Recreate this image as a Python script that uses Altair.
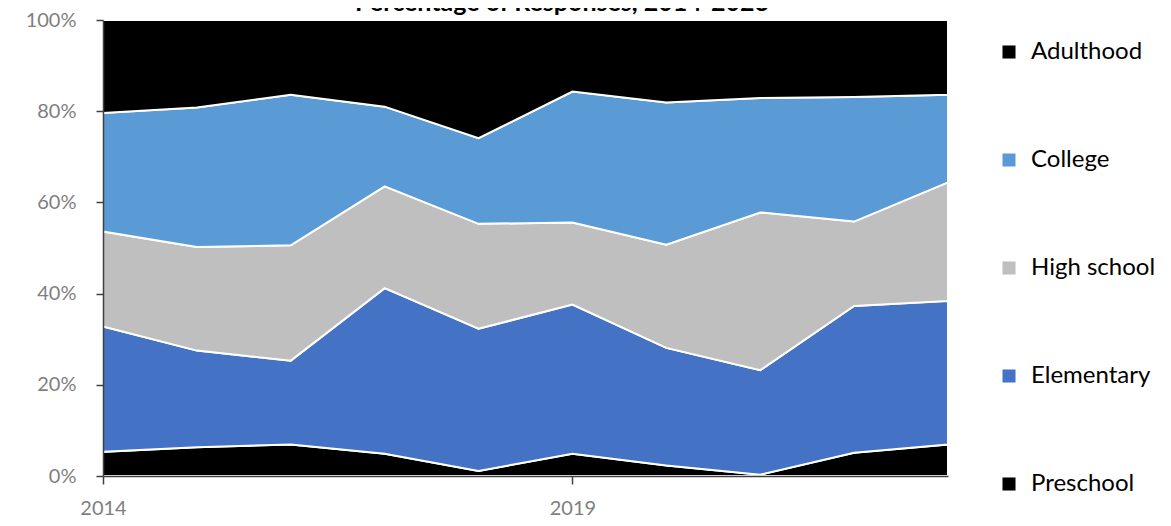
import altair as alt
import pandas as pd

years = [2014, 2015, 2016, 2017, 2018, 2019, 2020, 2021, 2022, 2023]
categories = ["Adulthood", "College", "High school", "Elementary", "Preschool"]
colors = ["#000000", "#5b9bd5", "#bfbfbf", "#4472c4", "#000000"]

preschool = [5.3, 6.3, 6.9, 4.9, 1.1, 4.9, 2.3, 0.3, 5.1, 6.9]
elementary = [27.5, 21.2, 18.4, 36.3, 31.2, 32.7, 25.8, 22.9, 32.2, 31.5]
high_school = [20.8, 22.7, 25.3, 22.3, 23.0, 18.0, 22.6, 34.6, 18.5, 26.0]
college = [26.0, 30.6, 33.0, 17.5, 18.8, 28.7, 31.2, 25.1, 27.3, 19.2]
adulthood = [20.4, 19.2, 16.4, 19.0, 25.9, 15.7, 18.1, 17.1, 16.9, 16.4]

title_text = "Percentage of Responses, 2014-2023"

series = {
    "Preschool": preschool,
    "Elementary": elementary,
    "High school": high_school,
    "College": college,
    "Adulthood": adulthood,
}
stack_order = {"Preschool": 0, "Elementary": 1, "High school": 2, "College": 3, "Adulthood": 4}

rows = []
for name, vals in series.items():
    for y, v in zip(years, vals):
        rows.append({"year": y, "level": name, "value": v, "ord": stack_order[name]})
df = pd.DataFrame(rows)

FONT = "Lato"
AXIS_COL = "#404040"
LABEL_COL = "#7f7f7f"

area = alt.Chart(df).mark_area(stroke="white", strokeWidth=2, strokeJoin="miter").encode(
    x=alt.X(
        "year:Q",
        scale=alt.Scale(domain=[2014, 2023], nice=False, zero=False),
        axis=alt.Axis(
            values=[2014, 2019], format="d", title=None, grid=False,
            labelFontSize=20, labelColor=LABEL_COL, labelFont=FONT,
            labelFlush=False, labelAlign="center",
            tickSize=8, tickColor=AXIS_COL, domainColor=AXIS_COL,
            domainWidth=1.5, tickWidth=1.5, labelPadding=14, zindex=1,
        ),
    ),
    y=alt.Y(
        "value:Q",
        stack="normalize",
        scale=alt.Scale(domain=[0, 1], nice=False),
        axis=alt.Axis(
            values=[0, 0.2, 0.4, 0.6, 0.8, 1.0], format=".0%", title=None, grid=False,
            labelFontSize=20, labelColor=LABEL_COL, labelFont=FONT,
            tickSize=7, tickColor=AXIS_COL, domainColor=AXIS_COL,
            domainWidth=1.5, tickWidth=1.5, labelPadding=20, zindex=1,
        ),
    ),
    color=alt.Color(
        "level:N",
        scale=alt.Scale(domain=categories, range=colors),
        legend=alt.Legend(
            title=None, orient="none", legendX=894, legendY=20, padding=0,
            symbolType="square", symbolSize=170, symbolStrokeWidth=0,
            labelFontSize=24, labelColor="#000000", labelFont=FONT,
            rowPadding=84, labelOffset=10,
        ),
    ),
    order=alt.Order("ord:Q", sort="ascending"),
)

title = alt.Chart(pd.DataFrame({"t": [title_text]})).mark_text(
    fontSize=25, fontWeight="bold", font=FONT, color="#000000", align="center", baseline="alphabetic"
).encode(text="t:N", x=alt.value(459), y=alt.value(-9))

chart = alt.layer(area, title).properties(
    width=845, height=456,
    autosize=alt.AutoSizeParams(type="none"),
    padding={"left": 95, "top": 12, "right": 215, "bottom": 42},
).configure_view(stroke=None)

chart.save("out.html", embed_options={"renderer": "svg", "actions": False})
